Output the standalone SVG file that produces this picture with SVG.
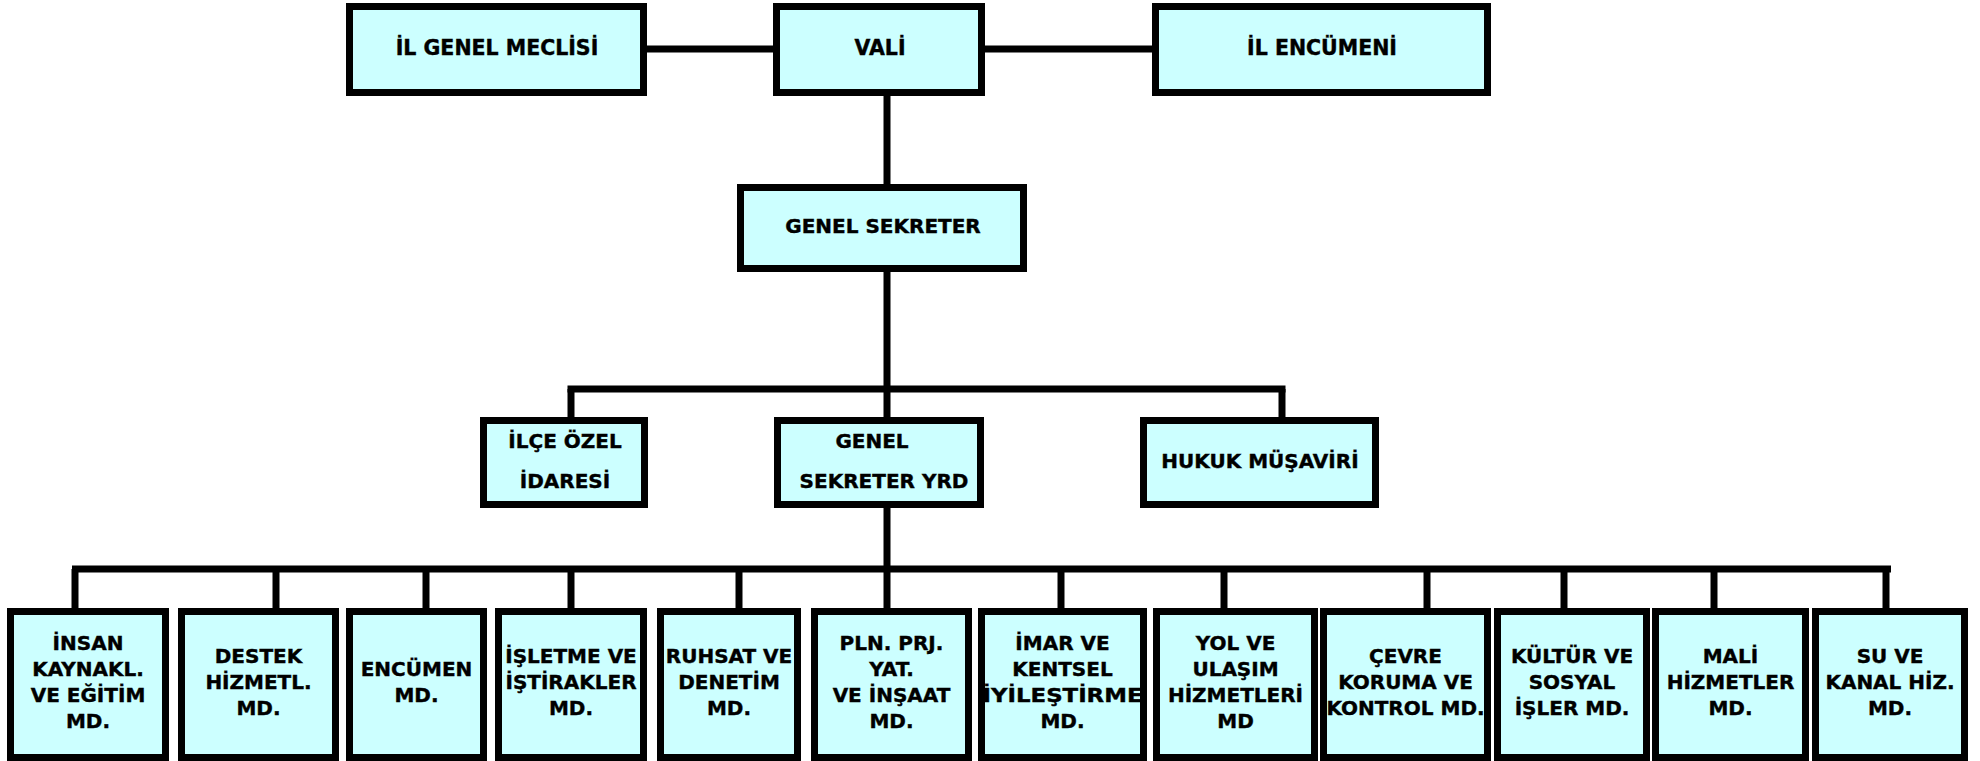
<svg xmlns="http://www.w3.org/2000/svg" width="1980" height="761" viewBox="0 0 1980 761">
<style>
.box{fill:#CCFFFF;stroke:#000;stroke-width:7}
.ln{stroke:#000;stroke-width:7;fill:none}
.t{font-family:"DejaVu Sans","Verdana",sans-serif;font-weight:bold;font-size:20px;fill:#000;stroke:#000;stroke-width:0.4;text-anchor:middle}
.tt{font-size:20.5px}
</style>
<rect width="1980" height="761" fill="#fff"/>
<g id="connectors">
<line class="ln" x1="647" y1="49" x2="773" y2="49"/>
<line class="ln" x1="985" y1="49" x2="1152" y2="49"/>
<line class="ln" x1="887" y1="96" x2="887" y2="184"/>
<line class="ln" x1="887" y1="272" x2="887" y2="417"/>
<line class="ln" x1="567.5" y1="389" x2="1285.5" y2="389"/>
<line class="ln" x1="571" y1="389" x2="571" y2="417"/>
<line class="ln" x1="1282" y1="389" x2="1282" y2="417"/>
<line class="ln" x1="887" y1="508" x2="887" y2="569"/>
<line class="ln" x1="72" y1="569" x2="1891" y2="569"/>
<line class="ln" x1="75" y1="569" x2="75" y2="608"/>
<line class="ln" x1="276" y1="569" x2="276" y2="608"/>
<line class="ln" x1="426" y1="569" x2="426" y2="608"/>
<line class="ln" x1="571" y1="569" x2="571" y2="608"/>
<line class="ln" x1="739" y1="569" x2="739" y2="608"/>
<line class="ln" x1="887" y1="569" x2="887" y2="608"/>
<line class="ln" x1="1061" y1="569" x2="1061" y2="608"/>
<line class="ln" x1="1224" y1="569" x2="1224" y2="608"/>
<line class="ln" x1="1427" y1="569" x2="1427" y2="608"/>
<line class="ln" x1="1564" y1="569" x2="1564" y2="608"/>
<line class="ln" x1="1714" y1="569" x2="1714" y2="608"/>
<line class="ln" x1="1886" y1="569" x2="1886" y2="608"/>
</g>
<g id="il-genel-meclisi"><rect class="box" x="349.5" y="6.5" width="294" height="86"/><text class="t tt" x="497" y="55">İL GENEL MECLİSİ</text></g>
<g id="vali"><rect class="box" x="776.5" y="6.5" width="205" height="86"/><text class="t tt" x="880" y="55">VALİ</text></g>
<g id="il-encumeni"><rect class="box" x="1155.5" y="6.5" width="332" height="86"/><text class="t tt" x="1322" y="55">İL ENCÜMENİ</text></g>
<g id="genel-sekreter"><rect class="box" x="740.5" y="187.5" width="283" height="81"/><text class="t" x="883" y="233">GENEL SEKRETER</text></g>
<g id="ilce-ozel-idaresi"><rect class="box" x="483.5" y="420.5" width="161" height="84"/><text class="t" x="565" y="448">İLÇE ÖZEL</text><text class="t" x="565" y="488">İDARESİ</text></g>
<g id="genel-sekreter-yrd"><rect class="box" x="777.5" y="420.5" width="203" height="84"/><text class="t" x="872" y="448">GENEL</text><text class="t" x="884" y="488">SEKRETER YRD</text></g>
<g id="hukuk-musaviri"><rect class="box" x="1143.5" y="420.5" width="232" height="84"/><text class="t" x="1260" y="468">HUKUK MÜŞAVİRİ</text></g>
<g id="insan-kaynakl"><rect class="box" x="10.5" y="611.5" width="155" height="146"/><text class="t" x="88" y="650">İNSAN</text><text class="t" x="88" y="676">KAYNAKL.</text><text class="t" x="88" y="702">VE EĞİTİM</text><text class="t" x="88" y="728">MD.</text></g>
<g id="destek-hizmetl"><rect class="box" x="181.5" y="611.5" width="154" height="146"/><text class="t" x="258.5" y="663">DESTEK</text><text class="t" x="258.5" y="689">HİZMETL.</text><text class="t" x="258.5" y="715">MD.</text></g>
<g id="encumen-md"><rect class="box" x="349.5" y="611.5" width="134" height="146"/><text class="t" x="416.5" y="676">ENCÜMEN</text><text class="t" x="416.5" y="702">MD.</text></g>
<g id="isletme-istirakler"><rect class="box" x="498.5" y="611.5" width="145" height="146"/><text class="t" x="571" y="663">İŞLETME VE</text><text class="t" x="571" y="689">İŞTİRAKLER</text><text class="t" x="571" y="715">MD.</text></g>
<g id="ruhsat-denetim"><rect class="box" x="660.5" y="611.5" width="137" height="146"/><text class="t" x="729" y="663">RUHSAT VE</text><text class="t" x="729" y="689">DENETİM</text><text class="t" x="729" y="715">MD.</text></g>
<g id="pln-prj-yat-insaat"><rect class="box" x="814.5" y="611.5" width="154" height="146"/><text class="t" x="891.5" y="650">PLN. PRJ.</text><text class="t" x="891.5" y="676">YAT.</text><text class="t" x="891.5" y="702">VE İNŞAAT</text><text class="t" x="891.5" y="728">MD.</text></g>
<g id="imar-kentsel"><rect class="box" x="981.5" y="611.5" width="162" height="146"/><text class="t" x="1062.5" y="650">İMAR VE</text><text class="t" x="1062.5" y="676">KENTSEL</text><text class="t" x="1062.5" y="702" textLength="160" lengthAdjust="spacingAndGlyphs">İYİLEŞTİRME</text><text class="t" x="1062.5" y="728">MD.</text></g>
<g id="yol-ulasim"><rect class="box" x="1156.5" y="611.5" width="158" height="146"/><text class="t" x="1235.5" y="650">YOL VE</text><text class="t" x="1235.5" y="676">ULAŞIM</text><text class="t" x="1235.5" y="702">HİZMETLERİ</text><text class="t" x="1235.5" y="728">MD</text></g>
<g id="cevre-koruma"><rect class="box" x="1323.5" y="611.5" width="164" height="146"/><text class="t" x="1405.5" y="663">ÇEVRE</text><text class="t" x="1405.5" y="689">KORUMA VE</text><text class="t" x="1405.5" y="715">KONTROL MD.</text></g>
<g id="kultur-sosyal"><rect class="box" x="1497.5" y="611.5" width="149" height="146"/><text class="t" x="1572" y="663">KÜLTÜR VE</text><text class="t" x="1572" y="689">SOSYAL</text><text class="t" x="1572" y="715">İŞLER MD.</text></g>
<g id="mali-hizmetler"><rect class="box" x="1655.5" y="611.5" width="150" height="146"/><text class="t" x="1730.5" y="663">MALİ</text><text class="t" x="1730.5" y="689">HİZMETLER</text><text class="t" x="1730.5" y="715">MD.</text></g>
<g id="su-kanal"><rect class="box" x="1815.5" y="611.5" width="149" height="146"/><text class="t" x="1890" y="663">SU VE</text><text class="t" x="1890" y="689">KANAL HİZ.</text><text class="t" x="1890" y="715">MD.</text></g>
</svg>
